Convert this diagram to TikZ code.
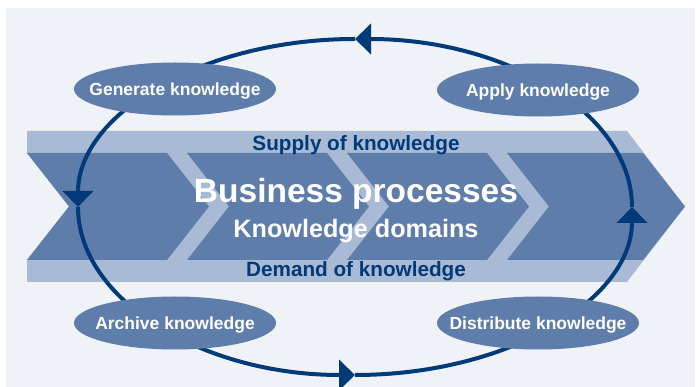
\documentclass[tikz,border=0pt]{standalone}
\usepackage{fontspec}
\setmainfont{Liberation Sans}
\usetikzlibrary{arrows.meta,shapes.geometric}
\definecolor{bgc}{HTML}{EFF2F7}
\definecolor{lightband}{HTML}{A9BAD4}
\definecolor{darkband}{HTML}{5E7DAA}
\definecolor{navy}{HTML}{003A78}
\begin{document}
\begin{tikzpicture}[x=1pt,y=-1pt,
  chev/.style={fill=darkband, draw=none},
  knode/.style={ellipse, fill=darkband, minimum width=202pt, minimum height=53pt, inner xsep=-20pt, inner ysep=0pt, text depth=0pt, text=white, font=\fontsize{17.5}{20}\selectfont\bfseries},
  loopline/.style={draw=navy, line width=4pt, -{Triangle[length=16pt,width=30pt]}},
  bandtext/.style={text=navy, font=\fontsize{20.7}{24}\selectfont\bfseries, anchor=base, inner sep=0pt},
  bigtext/.style={text=white, anchor=base, inner sep=0pt},
]
\useasboundingbox (0,0) rectangle (697,387);
\fill[bgc] (6,8) rectangle (695,387);
% light band
\fill[lightband] (27,131) -- (627,131) -- (685,206.5) -- (627,282) -- (27,282) -- (27,260) -- (69,206.5) -- (27,153) -- cycle;
% dark chevrons
\foreach \a/\b in {27/167, 187/327, 347/487, 507/643}{
  \fill[chev] (\a,153) -- (\b,153) -- (\b+42,206.5) -- (\b,260) -- (\a,260) -- (\a+42,206.5) -- cycle;
}
% texts
\node[bandtext] (supply) at (356,151) {Supply of knowledge};
\node[bandtext] (demand) at (356,277) {Demand of knowledge};
\node[bigtext, font=\fontsize{33.5}{36}\selectfont\bfseries] (bp) at (356,203) {Business processes};
\node[bigtext, font=\fontsize{25.2}{28}\selectfont\bfseries] (kd) at (356,238) {Knowledge domains};
% loop coordinates
\coordinate (pR) at (632,207);
\coordinate (pT) at (355,39);
\coordinate (pL) at (78,207);
\coordinate (pB) at (355,375);
\draw[loopline] (pR) arc[start angle=0, end angle=-90, x radius=277, y radius=168];
\draw[loopline] (pT) arc[start angle=-90, end angle=-180, x radius=277, y radius=168];
\draw[loopline] (pL) arc[start angle=-180, end angle=-270, x radius=277, y radius=168];
\draw[loopline] (pB) arc[start angle=-270, end angle=-360, x radius=277, y radius=168];
% ellipse nodes
\node[knode] (gen) at (175,89) {Generate knowledge};
\node[knode] (app) at (538,90) {Apply knowledge};
\node[knode] (arch) at (175,323) {Archive knowledge};
\node[knode] (dis) at (538,323) {Distribute knowledge};
\end{tikzpicture}
\end{document}
